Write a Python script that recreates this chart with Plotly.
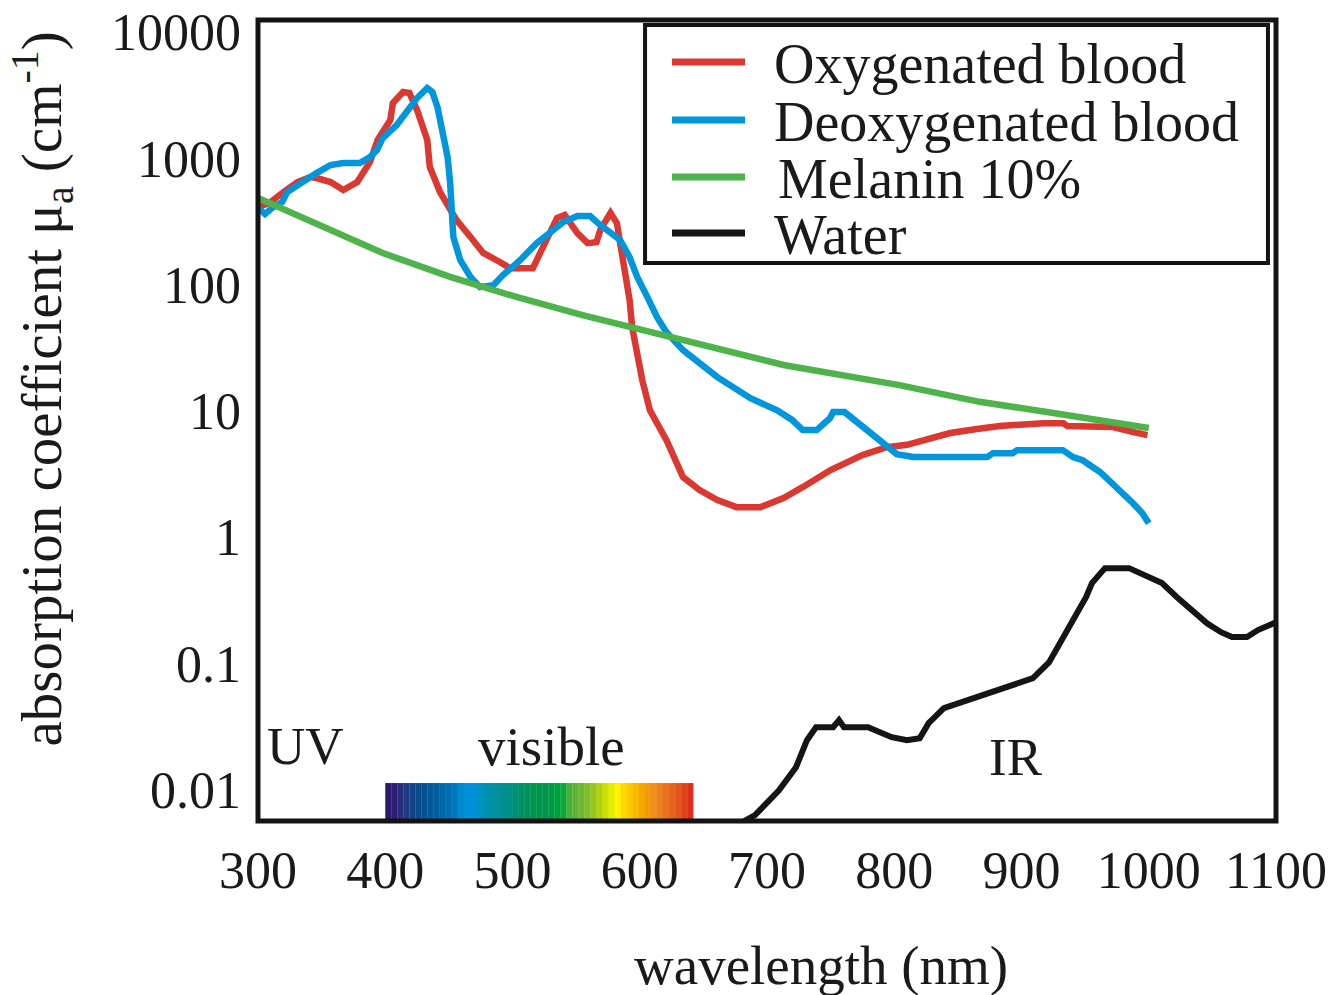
import numpy as np
import plotly.graph_objects as go

# ---------------- data ----------------
oxy_nm = [300, 309, 320, 331, 341, 346, 357, 367, 378, 388, 394, 404, 406, 414, 419, 425, 433, 435,
          443, 456, 467, 477, 490, 498, 516, 522, 535, 541, 551, 559, 566, 569, 577, 582, 587, 592,
          594, 598, 602, 608, 621, 634, 647, 661, 676, 695, 713, 728, 750, 775, 794, 810, 823, 844,
          865, 883, 917, 933, 936, 972, 988, 999]
oxy_mu = [411, 443, 541, 649, 711, 698, 649, 561, 649, 935, 1397, 2010, 2740, 3350, 3290, 2410, 1397, 853,
          541, 324, 238, 178, 151, 135, 135, 178, 337, 356, 256, 213, 217, 271, 369, 307, 165, 75.5,
          46.1, 28.7, 17.5, 10.1, 5.87, 2.99, 2.36, 1.97, 1.73, 1.73, 2.04, 2.49, 3.40, 4.47, 5.16, 5.39, 5.87, 6.68,
          7.18, 7.59, 8.00, 8.00, 7.59, 7.45, 6.80, 6.43]

deoxy_nm = [300, 305.5, 312, 319, 323, 333, 346, 357, 367, 380, 388, 393.5, 398, 409, 417, 425, 433, 437,
            441, 445, 449, 451, 452.5, 453.5, 459, 467, 474.5, 485, 492.5, 506, 519, 529.5, 540, 551,
            561, 569, 577, 584.5, 592, 598, 606, 613.5, 621, 634, 661, 687, 708, 720, 728, 739, 749.5,
            752, 761, 775, 789, 802, 815, 873, 877.5, 893, 896.5, 932.5, 940.5, 948, 962, 975, 987.5,
            995, 1000]
deoxy_mu = [404, 362, 411, 451, 541, 637, 764, 885, 917, 917, 1023, 1162, 1445, 1833, 2320, 3000, 3600, 3350,
            2550, 1675, 1023, 637, 343, 238, 156, 115, 95.5, 99, 119, 156, 213, 261, 313, 349,
            349, 296, 261, 226, 165, 115, 79.6, 55.4, 42, 30.3, 18.5, 12.6, 10.1, 8.45, 7.05, 7.05, 8.77,
            9.78, 9.78, 7.45, 5.66, 4.55, 4.31, 4.31, 4.63, 4.63, 4.89, 4.89, 4.31, 4.07, 3.27, 2.49, 1.86,
            1.55, 1.29]

melanin_nm = [300, 346, 398, 451, 503, 555, 634, 713, 804, 867, 920, 972, 1000]
melanin_mu = [485, 307, 178, 115, 79.8, 57.4, 36.4, 23.1, 16.0, 11.8, 9.80, 8.02, 7.32]

water_nm = [680, 690.6, 709.4, 722.8, 731.4, 738.5, 752, 756.6, 760.5, 779.4, 798, 810, 820, 827, 839,
            862.7, 885.5, 909, 921.6, 930, 940.5, 950.7, 955.4, 965.6, 984.5, 996.3, 1010.4, 1022.2,
            1036.3, 1045.8, 1056.8, 1065.4, 1077.2, 1085.8, 1100]
water_mu = [0.0055, 0.0063, 0.0099, 0.0151, 0.0247, 0.0313, 0.0313, 0.0356, 0.0313, 0.0313, 0.0261, 0.0247,
            0.0256, 0.0337, 0.0443, 0.0531, 0.0649, 0.0765, 0.102, 0.145, 0.220, 0.335, 0.433, 0.569,
            0.569, 0.500, 0.433, 0.335, 0.255, 0.208, 0.177, 0.162, 0.162, 0.184, 0.212]

series_names = ["Oxygenated blood", "Deoxygenated blood", "Melanin 10%", "Water"]
series_colors = ["#dc3832", "#0096dc", "#4db34a", "#151515"]

x_tick_vals = [300, 400, 500, 600, 700, 800, 900, 1000, 1100]
x_tick_text = ["300", "400", "500", "600", "700", "800", "900", "1000", "1100"]
y_tick_vals = [0.01, 0.1, 1, 10, 100, 1000, 10000]
y_tick_text = ["0.01", "0.1", "1", "10", "100", "1000", "10000"]

visible_start_nm = 400
visible_end_nm = 642
visible_colors = ["#2a1a6e", "#2c1f75", "#2a2c7c", "#1f3a84", "#134489", "#0a4a8d", "#045190",
                  "#005898", "#005f9f", "#0066a8", "#006fb2", "#0078bb", "#0088cc", "#0090d8",
                  "#0092d6", "#0091c6", "#0090b4", "#0090a6", "#00909a", "#008f90", "#008f85",
                  "#008f78", "#00906a", "#00925c", "#009450", "#009648", "#00944c", "#009a45",
                  "#00a040", "#0aa83a", "#4aae3a", "#5bb236", "#6cb82e", "#80be28", "#98c51e",
                  "#b3d010", "#cbe000", "#e6ea00", "#fff100", "#ffd800", "#fbc800", "#f7b800",
                  "#f5a700", "#f29a10", "#ee8e1e", "#ea8020", "#e8721e", "#e5641e", "#e2551e",
                  "#e0441e", "#de2e1e"]

FONT = "Liberation Serif, Times New Roman, serif"
TXT = "#1a1a1a"

# ---------------- figure ----------------
fig = go.Figure()
data = [(oxy_nm, oxy_mu), (deoxy_nm, deoxy_mu), (melanin_nm, melanin_mu), (water_nm, water_mu)]
widths = [6.5, 6.5, 6.5, 6]
for (xs, ys), name, col, w in zip(data, series_names, series_colors, widths):
    fig.add_trace(go.Scatter(x=xs, y=ys, mode="lines", name=name, showlegend=False,
                             line=dict(color=col, width=w)))

shapes = []
# visible spectrum bar
edges = np.linspace(visible_start_nm, visible_end_nm, len(visible_colors) + 1)
for i, c in enumerate(visible_colors):
    shapes.append(dict(type="rect", xref="x", yref="paper", x0=edges[i], x1=edges[i + 1] + 0.2,
                       y0=0.0025, y1=0.0474, line=dict(width=0), fillcolor=c, layer="below"))

# plot frame
shapes.append(dict(type="rect", xref="paper", yref="paper", x0=0, x1=1, y0=0, y1=1,
                   line=dict(color="#141414", width=5)))

# manual legend
lx0, lx1, ly0, ly1 = 0.3802, 0.9921, 0.6966, 0.9938
shapes.append(dict(type="rect", xref="paper", yref="paper", x0=lx0, x1=lx1, y0=ly0, y1=ly1,
                   line=dict(color="#141414", width=4), fillcolor="white"))
row_y = [0.9476, 0.8752, 0.8040, 0.7341]
text_x = [0.5049, 0.5049, 0.5088, 0.5049]
annotations = []
for name, col, yy, tx in zip(series_names, series_colors, row_y, text_x):
    shapes.append(dict(type="line", xref="paper", yref="paper", x0=0.4067, x1=0.4784, y0=yy, y1=yy,
                       line=dict(color=col, width=7)))
    annotations.append(dict(text=name, xref="paper", yref="paper", x=tx, y=yy - 0.003,
                            xanchor="left", yanchor="middle", showarrow=False,
                            font=dict(family=FONT, size=56, color=TXT)))

# region labels
annotations.append(dict(text="UV", xref="x", yref="paper", x=337.7, y=0.094, xanchor="center",
                        yanchor="middle", showarrow=False, font=dict(family=FONT, size=53, color=TXT)))
annotations.append(dict(text="visible", xref="x", yref="paper", x=530.3, y=0.093, xanchor="center",
                        yanchor="middle", showarrow=False, font=dict(family=FONT, size=55, color=TXT)))
annotations.append(dict(text="IR", xref="x", yref="paper", x=895.7, y=0.080, xanchor="center",
                        yanchor="middle", showarrow=False, font=dict(family=FONT, size=53, color=TXT)))

# axis titles
annotations.append(dict(text="wavelength (nm)", xref="paper", yref="paper", x=0.553, y=-0.180,
                        xanchor="center", yanchor="middle", showarrow=False,
                        font=dict(family=FONT, size=55, color=TXT)))
annotations.append(dict(text="absorption coefficient μ<sub>a</sub> (cm<sup>-1</sup>)", xref="paper",
                        yref="paper", x=-0.2122, y=0.540, xanchor="center", yanchor="middle",
                        textangle=-90, showarrow=False, font=dict(family=FONT, size=57, color=TXT)))

fig.update_layout(
    width=1342, height=995,
    margin=dict(l=258, r=66, t=20, b=174),
    paper_bgcolor="white", plot_bgcolor="white",
    shapes=shapes, annotations=annotations,
    showlegend=False,
    xaxis=dict(range=[300, 1100], tickvals=x_tick_vals, ticktext=x_tick_text, showgrid=False,
               zeroline=False, showline=False, ticks="", ticklabelstandoff=14, automargin=False,
               tickfont=dict(family=FONT, size=52, color=TXT)),
    yaxis=dict(type="log", range=[-2.247, 4.095], tickvals=y_tick_vals, ticktext=y_tick_text,
               showgrid=False, zeroline=False, showline=False, ticks="", ticklabelstandoff=16,
               automargin=False, tickfont=dict(family=FONT, size=52, color=TXT)),
)

fig.write_html("out.html")
